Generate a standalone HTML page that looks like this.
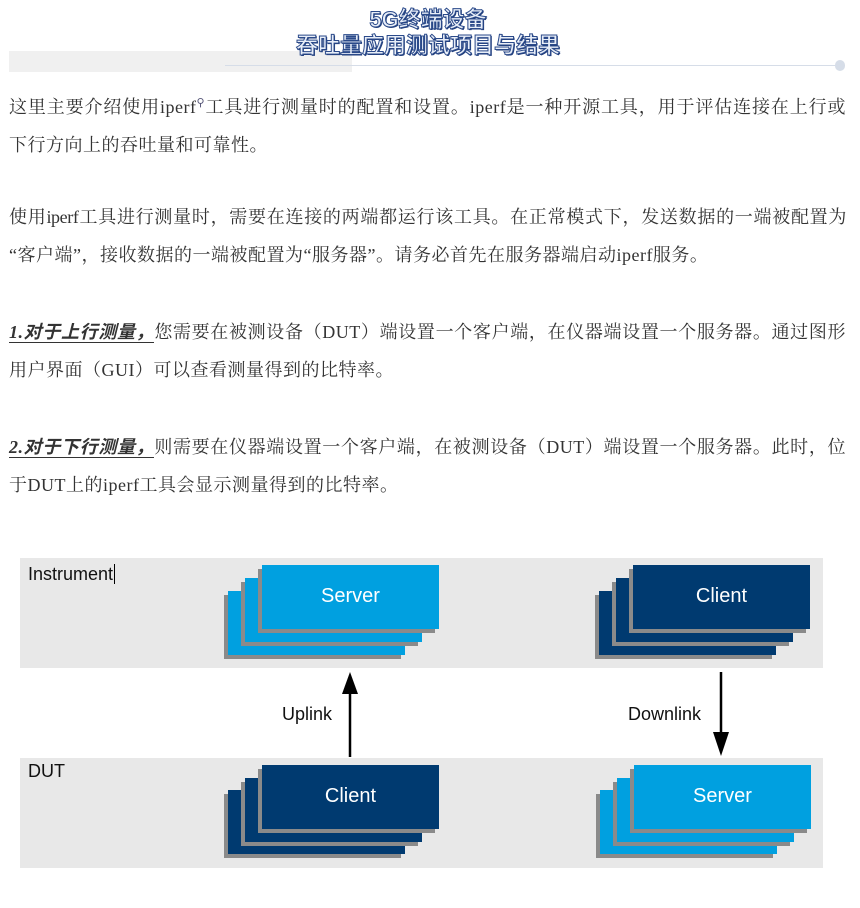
<!DOCTYPE html>
<html><head><meta charset="utf-8"><style>
body{margin:0;width:860px;height:908px;background:#fff;position:relative;overflow:hidden;font-family:"Liberation Serif","Noto Serif CJK SC","Noto Sans CJK SC",serif;color:#333}
.a{position:absolute}
.p{position:absolute;left:9px;width:837px;font-size:18px;letter-spacing:0.5px;line-height:38px;text-align:justify;text-align-last:left}
.t{font-family:"Liberation Sans","Noto Sans CJK SC",sans-serif;font-weight:bold;font-size:22px;color:#e8eef8;text-align:center;left:0;width:856px;line-height:26px;-webkit-text-stroke:1px #2b4a8a;text-shadow:1px 1px 0 #1d3a78;z-index:2}
.c{position:absolute;width:177px;height:64px;color:#fff;font-family:"Liberation Sans",sans-serif;font-size:20px;text-align:center;line-height:62px;box-shadow:-4px 4px 0 #8a8a8a}
.lb{position:absolute;font-family:"Liberation Sans","DejaVu Sans",sans-serif;font-size:18px;color:#111}
b i{font-family:"Liberation Serif","Noto Sans CJK SC",sans-serif}
</style></head><body>
<div class="a" style="left:9px;top:51px;width:343px;height:21px;background:#f0f0f0"></div>
<div class="a" style="left:225px;top:65px;width:610px;height:1px;background:#d6dde8"></div>
<div class="a" style="left:835px;top:60px;width:10px;height:11px;border-radius:5px;background:#d6dde8"></div>
<div class="a t" style="top:7px">5G终端设备<br>吞吐量应用测试项目与结果</div>

<div class="p" style="top:84px">这里主要介绍使用iperf<sup style="font-size:11px;color:#557">&#9906;</sup>工具进行测量时的配置和设置。iperf是一种开源工具，用于评估连接在上行或下行方向上的吞吐量和可靠性。</div>
<div class="p" style="top:198px;letter-spacing:-0.4px;text-align-last:justify;white-space:nowrap">使用iperf工具进行测量时，需要在连接的两端都运行该工具。在正常模式下，发送数据的一端被配置为</div>
<div class="p" style="top:236px;letter-spacing:0.5px">“客户端”，接收数据的一端被配置为“服务器”。请务必首先在服务器端启动iperf服务。</div>
<div class="p" style="top:313px"><b style="border-bottom:1px solid #333"><i>1.对于上行测量，</i></b>您需要在被测设备（DUT）端设置一个客户端，在仪器端设置一个服务器。通过图形用户界面（GUI）可以查看测量得到的比特率。</div>
<div class="p" style="top:428px"><b style="border-bottom:1px solid #333"><i>2.对于下行测量，</i></b>则需要在仪器端设置一个客户端，在被测设备（DUT）端设置一个服务器。此时，位于DUT上的iperf工具会显示测量得到的比特率。</div>

<div class="a" style="left:20px;top:558px;width:803px;height:110px;background:#e8e8e8"></div>
<div class="a" style="left:20px;top:758px;width:803px;height:110px;background:#e8e8e8"></div>
<div class="lb" style="left:28px;top:564px">Instrument<span style="border-left:1px solid #000;margin-left:1px"></span></div>
<div class="lb" style="left:28px;top:761px">DUT</div>

<div class="c" style="left:228px;top:591px;background:#00a0e0"></div>
<div class="c" style="left:245px;top:578px;background:#00a0e0"></div>
<div class="c" style="left:262px;top:565px;background:#00a0e0">Server</div>

<div class="c" style="left:599px;top:591px;background:#003a70"></div>
<div class="c" style="left:616px;top:578px;background:#003a70"></div>
<div class="c" style="left:633px;top:565px;background:#003a70">Client</div>

<div class="c" style="left:228px;top:790px;background:#003a70"></div>
<div class="c" style="left:245px;top:778px;background:#003a70"></div>
<div class="c" style="left:262px;top:765px;background:#003a70">Client</div>

<div class="c" style="left:600px;top:790px;background:#00a0e0"></div>
<div class="c" style="left:617px;top:778px;background:#00a0e0"></div>
<div class="c" style="left:634px;top:765px;background:#00a0e0">Server</div>

<svg class="a" style="left:0;top:0" width="860" height="908">
<line x1="350" y1="757" x2="350" y2="690" stroke="#000" stroke-width="2.5"/>
<polygon points="342,694 358,694 350,672" fill="#000"/>
<line x1="721" y1="672" x2="721" y2="738" stroke="#000" stroke-width="2.5"/>
<polygon points="713,732 729,732 721,756" fill="#000"/>
</svg>
<div class="lb" style="left:282px;top:704px">Uplink</div>
<div class="lb" style="left:628px;top:704px">Downlink</div>
</body></html>
